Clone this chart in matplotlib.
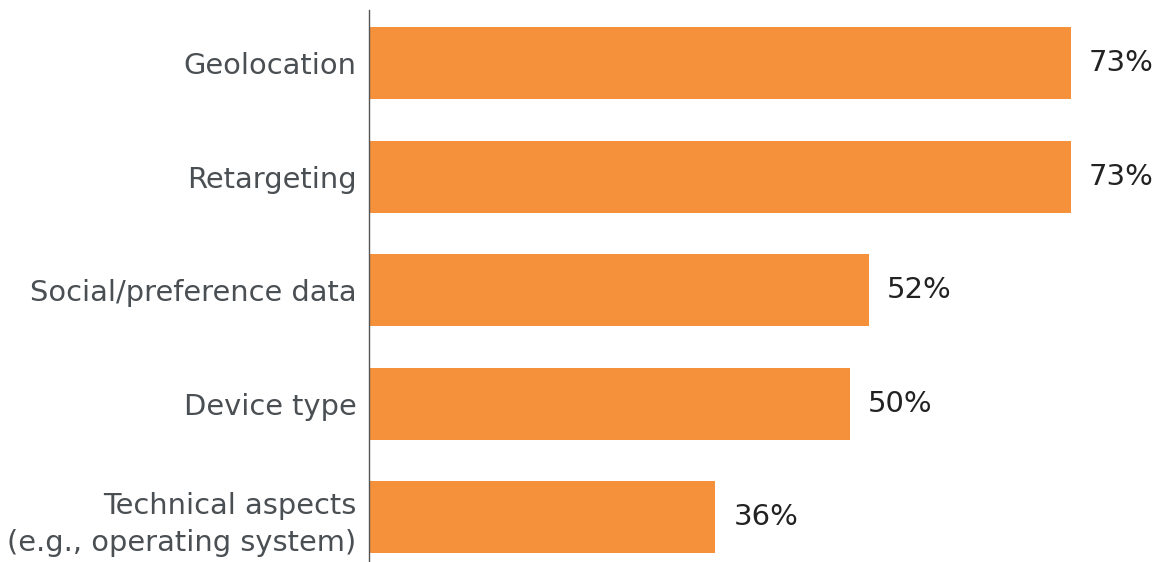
import matplotlib.pyplot as plt

categories = ["Geolocation", "Retargeting", "Social/preference data", "Device type",
              "Technical aspects\n(e.g., operating system)"]
values = [73, 73, 52, 50, 36]
labels = ["73%", "73%", "52%", "50%", "36%"]

plt.rcParams['font.family'] = ['DejaVu Sans']

fig = plt.figure(figsize=(11.63, 5.62), dpi=100)
ax = fig.add_axes([369 / 1163, 0, 1 - 369 / 1163, 552 / 562])

pos = list(range(len(categories)))
ax.barh(pos, values, height=0.634, color="#F5903B")

for p, v, lab in zip(pos, values, labels):
    ax.text(v + 1.9, p, lab, va="center", ha="left", fontsize=21, color="#222222")

ax.set_yticks(pos)
ax.set_yticklabels(categories, fontsize=20.8, color="#4a4f54", linespacing=1.4)
ax.tick_params(axis="y", length=0, pad=9)
ax.set_xticks([])
ax.set_xlim(0, 82.6)
ax.set_ylim(4.396, -0.467)

for s in ["top", "right", "bottom"]:
    ax.spines[s].set_visible(False)
ax.spines["left"].set_color("#555555")
ax.spines["left"].set_linewidth(1)

fig.savefig("out.png", dpi=100)
